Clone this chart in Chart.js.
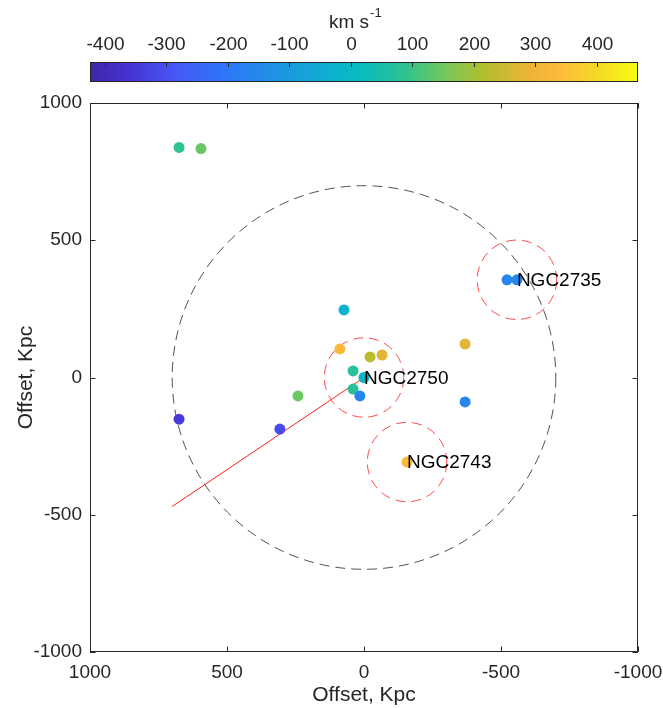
<!DOCTYPE html>
<html lang="en">
<head>
    <meta charset="UTF-8">
    <title>Group velocity map</title>
    <style>
        body { margin: 0; background: #fff; }
        #wrap { width: 663px; height: 708px; }
    </style>
    <script src="https://cdn.jsdelivr.net/npm/chart.js"></script>
</head>
<body>
<div id="wrap"><canvas id="myChart" width="663" height="708"></canvas></div>
<script>
    // galaxy offsets (kpc) and line-of-sight velocities (km/s)
    const offX = [675, 595, 73, 88, -22, -66, 40, 0, 40, 15, 241, 675, 307, -369, -369, -522, -558, -157];
    const offY = [838, 834, 246, 104, 75, 82, 24, 0, -42, -67, -67, -152, -188, 122, -89, 356, 356, -308];
    const vel  = [90, 140, -30, 335, 225, 280, 75, -5, 75, -160, 145, -345, -315, 280, -160, -160, -150, 330];

    // named groups (centre + radius in kpc)
    const groupNames = ['NGC2750', 'NGC2735', 'NGC2743'];
    const groupX = [0, -558, -157];
    const groupY = [0, 356, -308];
    const groupR = [145, 145, 145];

    const bigCircleR = 700;
    const lineX = [700, 0];
    const lineY = [-470, 0];

    const axisTicks = [-1000, -500, 0, 500, 1000];
    const cbarTicks = [-400, -300, -200, -100, 0, 100, 200, 300, 400];
    const cbarMin = -424;
    const cbarMax = 467;

    // parula-like colormap stops
    const cmapPos = [0, 0.07, 0.15, 0.25, 0.35, 0.45, 0.5, 0.58, 0.65, 0.72, 0.8, 0.85, 0.92, 1];
    const cmapRGB = [
        [62, 38, 168], [70, 50, 210], [72, 85, 245], [45, 120, 248], [30, 150, 225],
        [10, 180, 205], [10, 188, 190], [50, 195, 140], [120, 200, 90], [180, 190, 45],
        [235, 180, 55], [252, 185, 60], [245, 215, 40], [249, 251, 14]
    ];

    function cmap(t) {
        t = Math.max(0, Math.min(1, t));
        let i = 0;
        while (i < cmapPos.length - 2 && t > cmapPos[i + 1]) i++;
        const f = (t - cmapPos[i]) / (cmapPos[i + 1] - cmapPos[i]);
        const c = cmapRGB[i].map((v, k) => Math.round(v + f * (cmapRGB[i + 1][k] - v)));
        return `rgb(${c[0]},${c[1]},${c[2]})`;
    }

    const velColor = v => cmap((v - cbarMin) / (cbarMax - cbarMin));

    const textColor = '#262626';
    const fontFamily = '"Liberation Sans", Arial, sans-serif';
    const tickFont = { family: fontFamily, size: 19 };
    const titleFont = { family: fontFamily, size: 21 };

    const overlay = {
        id: 'overlay',
        beforeDatasetsDraw(chart) {
            const { ctx, chartArea: a, scales: { x, y } } = chart;
            const ppu = Math.abs(x.getPixelForValue(1) - x.getPixelForValue(0));
            ctx.save();
            ctx.beginPath();
            ctx.rect(a.left, a.top, a.right - a.left, a.bottom - a.top);
            ctx.clip();
            ctx.setLineDash([10, 6]);
            ctx.lineWidth = 0.8;
            ctx.strokeStyle = '#262626';
            ctx.beginPath();
            ctx.arc(x.getPixelForValue(0), y.getPixelForValue(0), bigCircleR * ppu, 0, 2 * Math.PI);
            ctx.stroke();
            ctx.strokeStyle = '#ff2020';
            groupX.forEach((gx, i) => {
                ctx.beginPath();
                ctx.arc(x.getPixelForValue(gx), y.getPixelForValue(groupY[i]), groupR[i] * ppu, 0, 2 * Math.PI);
                ctx.stroke();
            });
            ctx.restore();
        },
        afterDatasetsDraw(chart) {
            const { ctx, scales: { x, y } } = chart;
            ctx.save();
            ctx.fillStyle = '#000';
            ctx.font = '19px ' + fontFamily;
            ctx.textAlign = 'left';
            ctx.textBaseline = 'middle';
            groupNames.forEach((name, i) => {
                ctx.fillText(name, x.getPixelForValue(groupX[i]), y.getPixelForValue(groupY[i]) + 1);
            });
            ctx.restore();
        },
        afterDraw(chart) {
            const { ctx, chartArea: a, scales: { x, y } } = chart;
            ctx.save();
            // box + inward ticks on all sides
            ctx.strokeStyle = textColor;
            ctx.lineWidth = 1;
            ctx.beginPath();
            ctx.rect(a.left + 0.5, a.top + 0.5, a.right - a.left - 1, a.bottom - a.top - 1);
            ctx.stroke();
            const tl = 5.5;
            ctx.beginPath();
            axisTicks.forEach(v => {
                const px = Math.round(x.getPixelForValue(v)) + 0.5;
                ctx.moveTo(px, a.bottom); ctx.lineTo(px, a.bottom - tl);
                ctx.moveTo(px, a.top); ctx.lineTo(px, a.top + tl);
                const py = Math.round(y.getPixelForValue(v)) + 0.5;
                ctx.moveTo(a.left, py); ctx.lineTo(a.left + tl, py);
                ctx.moveTo(a.right, py); ctx.lineTo(a.right - tl, py);
            });
            ctx.stroke();

            // colorbar
            const cb = { left: a.left, right: a.right, top: 62, bottom: 82 };
            const cw = cb.right - cb.left;
            const grad = ctx.createLinearGradient(cb.left, 0, cb.right, 0);
            cmapPos.forEach((p, i) => grad.addColorStop(p, cmap(p)));
            ctx.fillStyle = grad;
            ctx.fillRect(cb.left, cb.top, cw, cb.bottom - cb.top);
            ctx.strokeRect(cb.left + 0.5, cb.top + 0.5, cw - 1, cb.bottom - cb.top - 1);
            ctx.fillStyle = textColor;
            ctx.font = '19px ' + fontFamily;
            ctx.textAlign = 'center';
            ctx.textBaseline = 'middle';
            ctx.beginPath();
            cbarTicks.forEach(v => {
                const px = Math.round(cb.left + (v - cbarMin) / (cbarMax - cbarMin) * cw) + 0.5;
                ctx.moveTo(px, cb.top); ctx.lineTo(px, cb.top + 5);
                ctx.fillText(String(v), px, 45);
            });
            ctx.stroke();
            // colorbar title "km s^-1"
            const zeroPx = cb.left + (0 - cbarMin) / (cbarMax - cbarMin) * cw;
            const main = 'km s';
            ctx.font = '13px ' + fontFamily;
            const supW = ctx.measureText('-1').width;
            ctx.font = '19px ' + fontFamily;
            const mainW = ctx.measureText(main).width;
            const startX = zeroPx - (mainW + supW) / 2 + 4;
            ctx.textAlign = 'left';
            ctx.textBaseline = 'alphabetic';
            ctx.fillText(main, startX, 28);
            ctx.font = '13px ' + fontFamily;
            ctx.fillText('-1', startX + mainW + 1, 17);
            ctx.restore();
        }
    };

    const points = offX.map((x, i) => ({ x: x, y: offY[i] }));
    const ctx = document.getElementById('myChart').getContext('2d');
    const myChart = new Chart(ctx, {
        type: 'scatter',
        data: {
            datasets: [
                {
                    type: 'line',
                    data: lineX.map((x, i) => ({ x: x, y: lineY[i] })),
                    borderColor: '#ff2020',
                    borderWidth: 1,
                    pointRadius: 0,
                    order: 2
                },
                {
                    data: points,
                    pointBackgroundColor: vel.map(velColor),
                    pointBorderWidth: 0,
                    pointRadius: 5.5,
                    order: 1
                }
            ]
        },
        options: {
            responsive: false,
            animation: false,
            layout: { padding: { top: 103, right: 25, left: 0, bottom: 0 } },
            plugins: { legend: { display: false }, tooltip: { enabled: false } },
            scales: {
                x: {
                    type: 'linear',
                    reverse: true,
                    min: -1000,
                    max: 1000,
                    afterFit: s => { s.height = 56; },
                    afterBuildTicks: s => { s.ticks = axisTicks.map(v => ({ value: v })); },
                    grid: { display: false, drawTicks: false },
                    border: { display: false },
                    ticks: { font: tickFont, color: textColor, padding: 9, maxRotation: 0, callback: v => String(v) },
                    title: { display: true, text: 'Offset, Kpc', font: titleFont, color: textColor, padding: { top: 0, bottom: 0 } }
                },
                y: {
                    type: 'linear',
                    min: -1000,
                    max: 1000,
                    afterFit: s => { s.width = 90; },
                    afterBuildTicks: s => { s.ticks = axisTicks.map(v => ({ value: v })); },
                    grid: { display: false, drawTicks: false },
                    border: { display: false },
                    ticks: { font: tickFont, color: textColor, padding: 8, callback: v => String(v) },
                    title: { display: true, text: 'Offset, Kpc', font: titleFont, color: textColor, padding: { top: 14, bottom: 0 } }
                }
            }
        },
        plugins: [overlay]
    });
</script>
</body>
</html>
